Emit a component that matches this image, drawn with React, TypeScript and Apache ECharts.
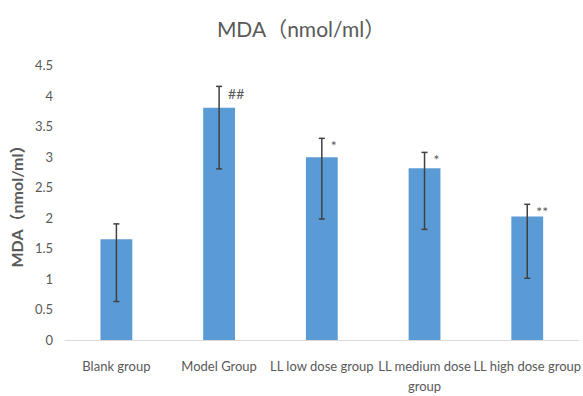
import React, { useEffect, useRef } from "react";
import * as echarts from "echarts";

const categories = ["Blank group", "Model Group", "LL low dose group", "LL medium dose group", "LL high dose group"];
const means = [1.65, 3.8, 2.99, 2.81, 2.02];
const errLow = [0.63, 2.8, 1.98, 1.81, 1.01];
const errHigh = [1.9, 4.15, 3.3, 3.07, 2.22];
const marks = ["", "##", "*", "*", "**"];
const yTicks = [0, 0.5, 1, 1.5, 2, 2.5, 3, 3.5, 4, 4.5];

const FONT = "Lato, 'Noto Sans CJK SC', sans-serif";

export default function App() {
  const ref = useRef<HTMLDivElement>(null);
  useEffect(() => {
    if (!ref.current) return;
    const chart = echarts.init(ref.current, undefined, { renderer: "svg" });
    const errData = categories.map((_, i) => [i, errLow[i], errHigh[i], marks[i]]);
    chart.setOption({
      animation: false,
      backgroundColor: "#ffffff",
      title: {
        text: "MDA（nmol/ml）",
        left: 296,
        top: 13,
        textAlign: "center",
        textStyle: { fontFamily: FONT, fontSize: 21, fontWeight: "normal", color: "#595959" },
      },
      grid: { left: 57, right: 0, top: 65, bottom: 51, containLabel: false },
      xAxis: {
        type: "category",
        data: categories,
        axisLine: { lineStyle: { color: "#d9d9d9", width: 1 } },
        axisTick: { show: false },
        axisLabel: {
          interval: 0,
          margin: 16,
          color: "#595959",
          fontFamily: FONT,
          fontSize: 13,
          lineHeight: 20,
          formatter: (v: string) => (v === "LL medium dose group" ? "LL medium dose\ngroup" : v),
        },
      },
      yAxis: {
        type: "value",
        min: yTicks[0],
        max: yTicks[yTicks.length - 1],
        interval: 0.5,
        name: "MDA（nmol/ml）",
        nameLocation: "middle",
        nameGap: 40,
        nameRotate: 90,
        nameTextStyle: { fontFamily: FONT, fontSize: 16, fontWeight: "bold", color: "#595959" },
        axisLine: { show: false },
        axisTick: { show: false },
        splitLine: { show: false },
        axisLabel: {
          margin: 12,
          color: "#595959",
          fontFamily: FONT,
          fontSize: 13,
          formatter: (v: number) => String(v),
        },
      },
      series: [
        {
          type: "bar",
          data: means,
          barWidth: "31%",
          itemStyle: { color: "#5b9bd5" },
        },
        {
          type: "custom",
          data: errData,
          z: 10,
          renderItem: (params: any, api: any) => {
            const i = api.value(0);
            const lo = api.coord([i, api.value(1)]);
            const hi = api.coord([i, api.value(2)]);
            const mark = marks[i];
            const stroke = { stroke: "#404040", lineWidth: 1.5 };
            const cap = 3;
            return {
              type: "group",
              children: [
                { type: "line", shape: { x1: hi[0], y1: hi[1], x2: lo[0], y2: lo[1] }, style: stroke },
                { type: "line", shape: { x1: hi[0] - cap, y1: hi[1], x2: hi[0] + cap, y2: hi[1] }, style: stroke },
                { type: "line", shape: { x1: lo[0] - cap, y1: lo[1], x2: lo[0] + cap, y2: lo[1] }, style: stroke },
                {
                  type: "text",
                  x: hi[0] + 9,
                  y: hi[1] + 7,
                  style: {
                    text: mark,
                    fill: "#595959",
                    font: `14px ${FONT}`,
                    verticalAlign: "middle",
                    align: "left",
                  },
                },
              ],
            };
          },
        },
      ],
    });
    return () => chart.dispose();
  }, []);
  return <div ref={ref} style={{ width: 583, height: 396, position: "absolute", left: 0, top: 0 }} />;
}
